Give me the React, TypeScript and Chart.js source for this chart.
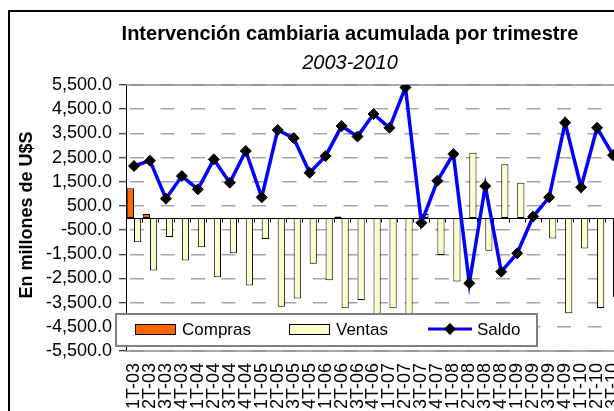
import React, { useEffect, useRef } from 'react';
import { Chart, registerables } from 'chart.js';

Chart.register(...registerables);

const CATEGORIES = [
  '1T-03', '2T-03', '3T-03', '4T-03',
  '1T-04', '2T-04', '3T-04', '4T-04',
  '1T-05', '2T-05', '3T-05', '4T-05',
  '1T-06', '2T-06', '3T-06', '4T-06',
  '1T-07', '2T-07', '3T-07', '4T-07',
  '1T-08', '2T-08', '3T-08', '4T-08',
  '1T-09', '2T-09', '3T-09', '4T-09',
  '1T-10', '2T-10', '3T-10',
];

const COMPRAS = [
  1230, 170, 0, 0,
  0, 0, 0, 0,
  0, 0, 0, 0,
  0, 60, 0, 0,
  0, 0, 0, 0,
  0, 0, 0, 0,
  0, 0, 0, 0,
  0, 0, 0,
];

const VENTAS = [
  -1000, -2175, -785, -1760,
  -1210, -2450, -1460, -2795,
  -870, -3665, -3330, -1890,
  -2575, -3735, -3390, -4500,
  -3730, -5330, 170, -1530,
  -2630, 2700, -1350, 2220,
  1460, 0, -850, -3940,
  -1260, -3725, -3280,
];

const SALDO = [
  2150, 2370, 800, 1735,
  1185, 2425, 1460, 2770,
  855, 3640, 3305, 1870,
  2560, 3800, 3370, 4300,
  3730, 5400, -200, 1540,
  2645, -2700, 1320, -2220,
  -1460, 60, 855, 3940,
  1270, 3730, 2600,
];

const SERIES_LABELS = ['Compras', 'Ventas', 'Saldo'];
const Y_MIN = -5500;
const Y_MAX = 5500;
const Y_STEP = 1000;
const TITLE = 'Intervención cambiaria acumulada por trimestre';
const SUBTITLE = '2003-2010';
const Y_TITLE = 'En millones de U$S';

const FAMILY = '"Liberation Sans", Arial, Helvetica, sans-serif';
const W = 640;
const H = 420;
const PLOT_BOTTOM = 339;

const decor = {
  id: 'decor',
  beforeDatasetsDraw(chart: any) {
    const { ctx, chartArea: a, scales } = chart;
    const y0 = Math.round(scales.y.getPixelForValue(0)) + 0.5;
    ctx.save();
    ctx.strokeStyle = '#8a8a8a';
    ctx.lineWidth = 1.5;
    ctx.beginPath();
    ctx.moveTo(a.left, a.top);
    ctx.lineTo(a.right, a.top);
    ctx.lineTo(a.right, a.bottom);
    ctx.lineTo(a.left, a.bottom);
    ctx.stroke();
    ctx.strokeStyle = '#000';
    ctx.lineWidth = 1;
    ctx.beginPath();
    ctx.moveTo(a.left, y0);
    ctx.lineTo(a.right, y0);
    const n = chart.data.labels.length;
    for (let i = 0; i <= n; i++) {
      const x = Math.round(a.left + (i * a.width) / n) + 0.5;
      ctx.moveTo(x, y0);
      ctx.lineTo(x, y0 + 4);
    }
    ctx.stroke();
    ctx.restore();
  },
  afterDraw(chart: any) {
    const { ctx, chartArea: a } = chart;
    ctx.save();
    ctx.fillStyle = '#000';
    ctx.textAlign = 'center';
    ctx.textBaseline = 'alphabetic';
    ctx.font = `bold 20px ${FAMILY}`;
    ctx.fillText(TITLE, 340, 28);
    ctx.font = `italic 20px ${FAMILY}`;
    ctx.fillText(SUBTITLE, 340, 57);

    ctx.save();
    ctx.translate(22, 203);
    ctx.rotate(-Math.PI / 2);
    ctx.font = `bold 18px ${FAMILY}`;
    ctx.fillText(Y_TITLE, 0, 0);
    ctx.restore();

    const bx = a.left - 10;
    const by = a.bottom - 37;
    const bw = 421;
    const bh = 32;
    ctx.fillStyle = '#fff';
    ctx.fillRect(bx, by, bw, bh);
    ctx.strokeStyle = '#808080';
    ctx.lineWidth = 2;
    ctx.strokeRect(bx, by, bw, bh);

    const cy = by + 15;
    const ds = chart.data.datasets;
    const itemX = [bx + 19, bx + 173, bx + 312];
    ctx.font = `17px ${FAMILY}`;
    ctx.textAlign = 'left';
    ctx.textBaseline = 'middle';
    ds.forEach((d: any, i: number) => {
      const x = itemX[i];
      if (d.type === 'line') {
        ctx.strokeStyle = d.borderColor;
        ctx.lineWidth = 3;
        ctx.beginPath();
        ctx.moveTo(x, cy);
        ctx.lineTo(x + 44, cy);
        ctx.stroke();
        ctx.fillStyle = '#000';
        ctx.beginPath();
        ctx.moveTo(x + 22, cy - 6);
        ctx.lineTo(x + 28, cy);
        ctx.lineTo(x + 22, cy + 6);
        ctx.lineTo(x + 16, cy);
        ctx.closePath();
        ctx.fill();
        ctx.fillStyle = '#000';
        ctx.fillText(d.label, x + 49, cy + 1);
      } else {
        ctx.fillStyle = d.backgroundColor;
        ctx.fillRect(x, cy - 5, 40, 10);
        ctx.strokeStyle = '#000';
        ctx.lineWidth = 1;
        ctx.strokeRect(x + 0.5, cy - 5 + 0.5, 40, 10);
        ctx.fillStyle = '#000';
        ctx.fillText(d.label, x + 47, cy + 1);
      }
    });
    ctx.restore();
  },
};

export default function App() {
  const ref = useRef<HTMLCanvasElement>(null);

  useEffect(() => {
    const canvas = ref.current;
    if (!canvas) return;
    Chart.defaults.font.family = FAMILY;
    const chart = new Chart(canvas, {
      type: 'bar',
      data: {
        labels: CATEGORIES,
        datasets: [
          {
            type: 'bar',
            label: SERIES_LABELS[0],
            data: COMPRAS,
            backgroundColor: '#FF6600',
            borderColor: '#000',
            borderWidth: 1,
            borderSkipped: false,
            categoryPercentage: 0.9,
            barPercentage: 1,
            order: 1,
          },
          {
            type: 'bar',
            label: SERIES_LABELS[1],
            data: VENTAS,
            backgroundColor: '#FFFFCC',
            borderColor: '#000',
            borderWidth: 1,
            borderSkipped: false,
            categoryPercentage: 0.9,
            barPercentage: 1,
            order: 1,
          },
          {
            type: 'line',
            label: SERIES_LABELS[2],
            data: SALDO,
            borderColor: '#0000FF',
            borderWidth: 3.5,
            tension: 0,
            pointStyle: 'rectRot',
            pointRadius: 5.5,
            pointBackgroundColor: '#000',
            pointBorderColor: '#000',
            pointBorderWidth: 1,
            order: 0,
          },
        ],
      } as any,
      options: {
        responsive: false,
        animation: false,
        layout: { padding: { top: 73, right: 29, left: 0, bottom: 0 } },
        plugins: {
          legend: { display: false },
          title: { display: false },
          tooltip: { enabled: false },
        },
        scales: {
          x: {
            grid: { display: false, drawTicks: false },
            border: { display: false },
            ticks: {
              autoSkip: false,
              maxRotation: 90,
              minRotation: 90,
              padding: 12,
              color: '#000',
              font: { family: FAMILY, size: 18 },
            },
            afterFit: (s: any) => {
              s.height = H - PLOT_BOTTOM;
            },
          },
          y: {
            min: Y_MIN,
            max: Y_MAX,
            ticks: {
              stepSize: Y_STEP,
              autoSkip: false,
              padding: 7,
              color: '#000',
              font: { family: FAMILY, size: 18 },
              callback: (v: any) =>
                Number(v).toLocaleString('en-US', {
                  minimumFractionDigits: 1,
                  maximumFractionDigits: 1,
                }),
            },
            grid: {
              color: '#a6a6a6',
              lineWidth: 1.5,
              tickColor: '#000',
              tickLength: 7,
              tickWidth: 1,
            },
            border: {
              display: true,
              color: '#000',
              width: 1,
              dash: [14, 16.5],
              dashOffset: -3,
            },
            afterFit: (s: any) => {
              s.width = 116;
            },
          },
        },
      } as any,
      plugins: [decor],
    });
    return () => chart.destroy();
  }, []);

  return (
    <div
      style={{
        position: 'fixed',
        left: 0,
        top: 0,
        width: 614,
        height: 411,
        overflow: 'hidden',
        background: '#fff',
      }}
    >
      <div
        style={{
          position: 'absolute',
          left: 8,
          top: 10,
          width: W,
          height: H,
          border: '2px solid #000',
          background: '#fff',
        }}
      >
        <canvas
          ref={ref}
          width={W}
          height={H}
          style={{ display: 'block', width: W, height: H }}
        />
      </div>
    </div>
  );
}
